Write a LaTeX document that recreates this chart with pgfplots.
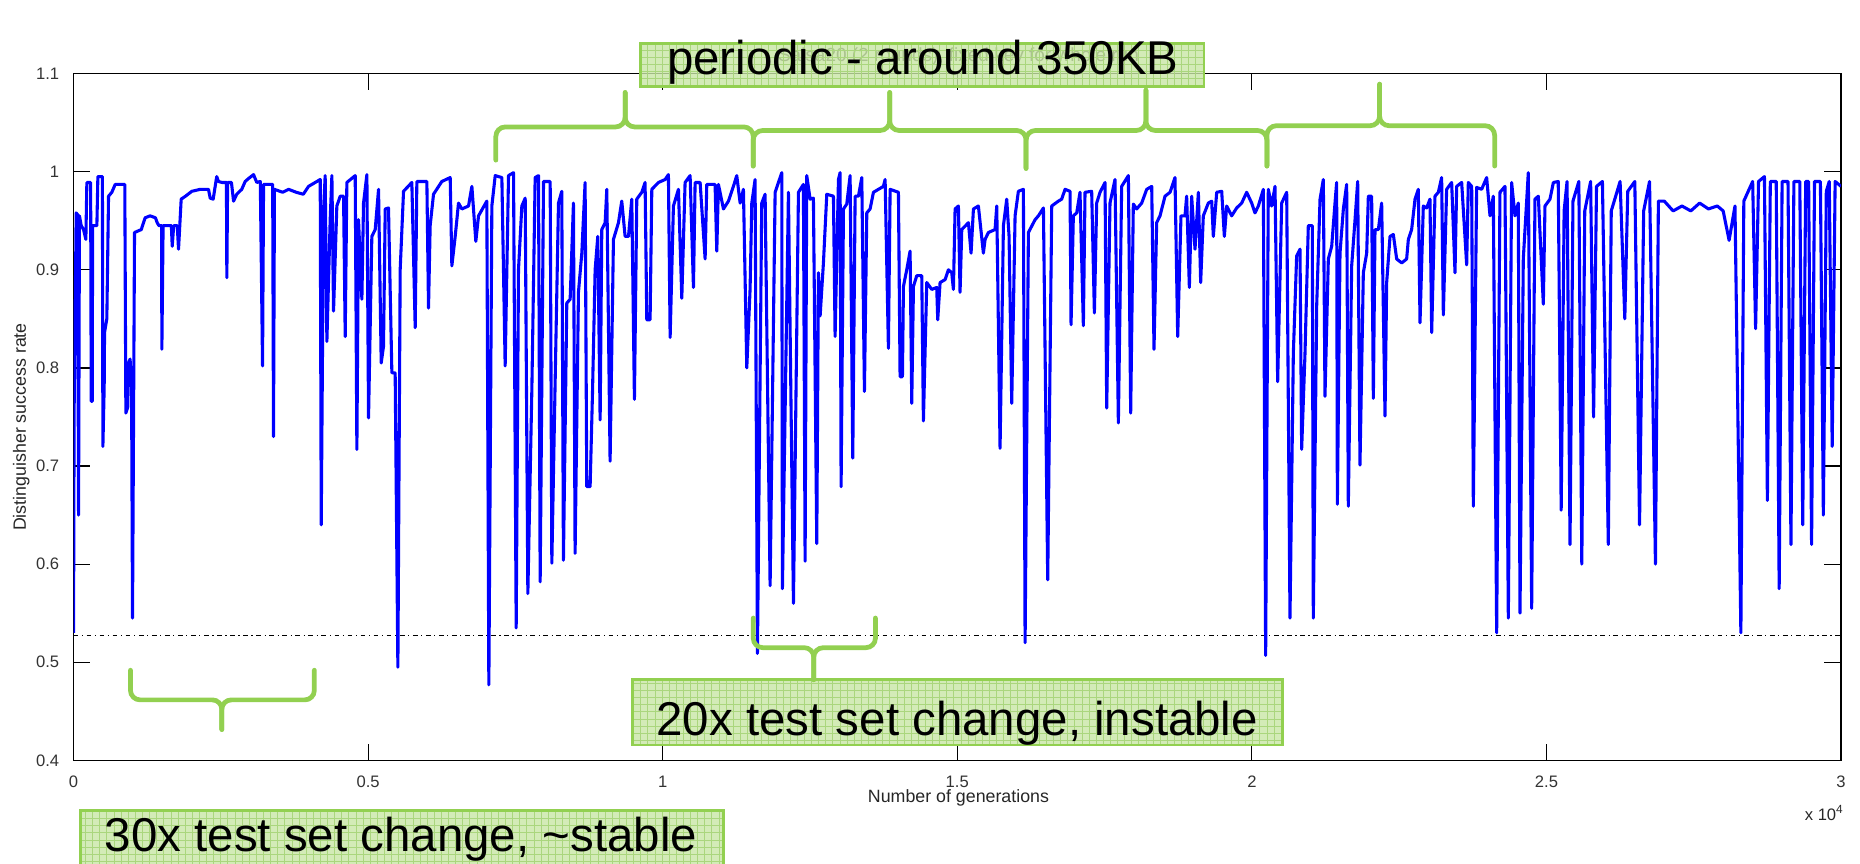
\documentclass[border=0pt]{standalone}
\usepackage{pgfplots}
\pgfplotsset{compat=1.18}
\usepackage{pgfplotstable}
\usepackage{fontspec}
\setmainfont{Liberation Sans}
\definecolor{bracegreen}{RGB}{146,208,80}
\definecolor{boxfill}{RGB}{200,230,165}
\definecolor{gridgreen}{RGB}{170,214,125}
\definecolor{plotblue}{RGB}{0,0,255}

\pgfplotstableread{
x y
0 0.53
10 0.757
45 0.958
70 0.956
85 0.65
100 0.955
130 0.945
170 0.941
209 0.931
226 0.989
290 0.989
300 0.766
318 0.766
323 0.945
396 0.945
413 0.995
490 0.995
498 0.72
520 0.78
526 0.836
565 0.85
594 0.975
650 0.979
707 0.987
870 0.987
888 0.754
920 0.76
934 0.805
960 0.809
985 0.78
1001 0.545
1035 0.938
1150 0.941
1171 0.945
1216 0.953
1300 0.955
1390 0.953
1420 0.948
1450 0.945
1495 0.945
1499 0.819
1520 0.945
1660 0.945
1675 0.924
1700 0.945
1760 0.945
1782 0.921
1827 0.972
1900 0.975
2008 0.98
2150 0.982
2290 0.982
2320 0.973
2370 0.972
2430 0.995
2460 0.99
2520 0.989
2595 0.989
2602 0.892
2615 0.989
2680 0.989
2716 0.97
2770 0.977
2855 0.982
2913 0.99
2970 0.993
3055 0.997
3110 0.989
3170 0.99
3208 0.802
3225 0.987
3380 0.987
3394 0.73
3410 0.982
3550 0.979
3650 0.982
3780 0.979
3900 0.977
3988 0.985
4130 0.99
4187 0.992
4204 0.64
4243 0.96
4271 0.996
4300 0.827
4356 0.951
4385 0.996
4413 0.858
4469 0.965
4526 0.975
4583 0.975
4611 0.832
4639 0.989
4781 0.996
4809 0.717
4837 0.951
4894 0.87
4922 0.968
4979 0.997
5007 0.749
5063 0.934
5120 0.941
5177 0.982
5222 0.805
5261 0.822
5290 0.962
5346 0.963
5403 0.795
5459 0.795
5505 0.495
5544 0.9
5601 0.98
5742 0.989
5799 0.841
5827 0.99
5997 0.99
6025 0.861
6053 0.945
6110 0.977
6251 0.99
6393 0.994
6421 0.904
6478 0.934
6534 0.968
6591 0.962
6704 0.965
6761 0.985
6828 0.929
6874 0.955
7015 0.97
7049 0.477
7100 0.965
7157 0.996
7270 0.994
7326 0.802
7383 0.996
7468 0.999
7513 0.535
7552 0.9
7609 0.965
7666 0.973
7711 0.57
7779 0.778
7835 0.994
7892 0.996
7920 0.582
7977 0.99
8090 0.99
8118 0.601
8175 0.788
8231 0.968
8287 0.98
8315 0.604
8372 0.866
8429 0.87
8485 0.968
8513 0.611
8570 0.877
8627 0.917
8683 0.989
8711 0.679
8768 0.679
8808 0.774
8853 0.9
8898 0.934
8938 0.747
8966 0.941
9023 0.948
9051 0.982
9107 0.705
9164 0.931
9249 0.948
9305 0.97
9362 0.934
9419 0.934
9475 0.972
9520 0.768
9560 0.972
9645 0.979
9701 0.989
9730 0.849
9786 0.849
9815 0.982
9928 0.989
10041 0.992
10097 0.997
10126 0.831
10182 0.965
10267 0.982
10324 0.871
10380 0.989
10465 0.996
10522 0.882
10550 0.989
10635 0.989
10720 0.911
10748 0.987
10889 0.987
10918 0.919
10946 0.987
11031 0.962
11116 0.97
11200 0.985
11257 0.996
11314 0.968
11370 0.982
11427 0.8
11483 0.88
11512 0.968
11568 0.992
11608 0.509
11681 0.968
11738 0.977
11823 0.578
11908 0.979
12021 0.999
12032 0.575
12134 0.979
12219 0.56
12304 0.979
12388 0.987
12417 0.603
12445 0.996
12502 0.972
12558 0.973
12615 0.621
12643 0.897
12672 0.853
12728 0.907
12785 0.977
12898 0.975
12926 0.832
12983 0.992
13011 0.999
13028 0.679
13068 0.962
13124 0.967
13181 0.996
13226 0.708
13266 0.975
13322 0.975
13379 0.994
13424 0.776
13464 0.958
13520 0.962
13577 0.979
13746 0.985
13775 0.992
13831 0.82
13860 0.982
14001 0.979
14029 0.791
14069 0.791
14086 0.883
14142 0.9
14199 0.919
14227 0.764
14256 0.883
14312 0.894
14397 0.894
14425 0.746
14482 0.887
14567 0.88
14651 0.882
14668 0.849
14708 0.887
14793 0.89
14849 0.9
14906 0.897
14934 0.88
14963 0.962
15019 0.965
15047 0.877
15076 0.941
15189 0.948
15234 0.917
15274 0.962
15358 0.965
15443 0.917
15472 0.931
15528 0.938
15641 0.941
15670 0.965
15726 0.718
15783 0.945
15839 0.972
15879 0.934
15924 0.764
15981 0.955
16037 0.98
16122 0.982
16151 0.52
16207 0.938
16320 0.951
16377 0.955
16462 0.963
16535 0.584
16603 0.965
16716 0.97
16772 0.972
16829 0.982
16914 0.98
16931 0.844
16970 0.955
17027 0.958
17083 0.979
17140 0.843
17168 0.979
17281 0.98
17327 0.856
17366 0.968
17423 0.979
17508 0.989
17536 0.759
17592 0.968
17677 0.992
17734 0.744
17790 0.985
17904 0.996
17943 0.754
17988 0.967
18045 0.962
18130 0.968
18215 0.982
18300 0.985
18339 0.819
18384 0.948
18441 0.955
18526 0.975
18611 0.979
18695 0.994
18741 0.832
18797 0.955
18865 0.955
18893 0.975
18939 0.882
18978 0.975
19035 0.921
19092 0.979
19131 0.887
19176 0.955
19261 0.968
19318 0.97
19346 0.934
19403 0.979
19488 0.98
19533 0.934
19572 0.965
19657 0.955
19742 0.963
19827 0.968
19912 0.979
19997 0.968
20053 0.958
20110 0.965
20195 0.982
20234 0.507
20279 0.982
20336 0.965
20393 0.985
20438 0.786
20506 0.968
20591 0.979
20647 0.545
20704 0.815
20760 0.914
20817 0.921
20845 0.717
20902 0.815
20958 0.945
21026 0.945
21043 0.545
21100 0.863
21157 0.972
21213 0.992
21241 0.771
21298 0.911
21355 0.924
21411 0.968
21439 0.989
21451 0.661
21496 0.917
21553 0.962
21609 0.987
21637 0.659
21694 0.904
21751 0.951
21796 0.99
21835 0.701
21892 0.897
21949 0.917
21977 0.975
22033 0.975
22062 0.769
22090 0.941
22147 0.941
22203 0.968
22260 0.751
22288 0.887
22345 0.934
22401 0.936
22458 0.911
22543 0.907
22627 0.911
22656 0.931
22712 0.941
22769 0.972
22825 0.982
22854 0.846
22910 0.965
22967 0.963
23023 0.972
23052 0.836
23108 0.975
23165 0.979
23221 0.994
23250 0.854
23306 0.982
23391 0.989
23448 0.897
23476 0.985
23561 0.989
23646 0.905
23674 0.989
23731 0.985
23759 0.659
23815 0.984
23900 0.982
23985 0.994
24042 0.955
24098 0.975
24155 0.53
24211 0.979
24296 0.985
24353 0.545
24409 0.989
24466 0.955
24522 0.968
24551 0.55
24607 0.911
24692 0.999
24749 0.555
24805 0.972
24862 0.975
24947 0.865
24975 0.965
25060 0.972
25117 0.989
25200 0.99
25250 0.655
25300 0.96
25350 0.99
25400 0.62
25450 0.97
25550 0.99
25600 0.60
25650 0.96
25750 0.99
25800 0.75
25850 0.985
25950 0.99
26050 0.62
26100 0.96
26250 0.99
26330 0.85
26380 0.98
26500 0.99
26580 0.64
26650 0.96
26750 0.99
26850 0.60
26900 0.97
27000 0.97
27150 0.96
27300 0.965
27450 0.96
27600 0.968
27750 0.962
27900 0.965
28000 0.96
28100 0.93
28200 0.965
28300 0.53
28350 0.97
28500 0.99
28550 0.84
28600 0.99
28700 0.995
28750 0.665
28800 0.99
28900 0.99
28950 0.575
29000 0.99
29100 0.99
29150 0.62
29200 0.99
29300 0.99
29350 0.64
29400 0.99
29450 0.99
29500 0.62
29550 0.99
29650 0.99
29700 0.65
29750 0.98
29800 0.99
29850 0.72
29900 0.99
30000 0.985
}\datatable

\newcommand{\gbox}[4]{%
  \fill[boxfill, fill opacity=0.8] (#1,#2) rectangle (#3,#4);
  \draw[gridgreen, line width=0.25pt, step=3pt] (#1,#2) grid (#3,#4);
  \draw[bracegreen, line width=1.2pt] (#1,#2) rectangle (#3,#4);
}

\begin{document}
\begin{tikzpicture}
\begin{axis}[
  at={(0,0)}, anchor=south west,
  scale only axis, width=745pt, height=289.5pt,
  xmin=0, xmax=30000, ymin=0.4, ymax=1.1,
  xtick={0,5000,10000,15000,20000,25000,30000},
  xticklabels={0,0.5,1,1.5,2,2.5,3},
  ytick={0.4,0.5,0.6,0.7,0.8,0.9,1,1.1},
  yticklabels={0.4,0.5,0.6,0.7,0.8,0.9,1,1.1},
  scaled x ticks=false,
  tick align=inside, xtick pos=both, ytick pos=both,
  major tick length=7pt,
  tick style={black, line width=0.5pt},
  axis line style={black, line width=0.6pt},
  ticklabel style={font=\fontsize{7}{8}\selectfont, text=black!80},
  xticklabel style={yshift=-3pt},
  yticklabel style={xshift=-2.5pt},
  /pgf/number format/assume math mode=true,
]
\addplot[black, line width=0.5pt, dash pattern=on 2pt off 1.5pt on 0.5pt off 1.5pt] coordinates {(0,0.527) (30000,0.527)};
\addplot[plotblue, line width=1.3pt, line join=round, no markers] table[x=x,y=y] {\datatable};
\end{axis}
\begin{scope}[x=0.5pt,y=-0.5pt,shift={(-31pt,320.5pt)}]
 \node[font=\fontsize{7.5}{9}\selectfont, rotate=90, text=black!85] at (18,360) {Distinguisher success rate};
 \node[font=\fontsize{7.5}{9}\selectfont, text=black!85] at (808,673) {Number of generations};
 \node[font=\fontsize{7}{8}\selectfont, anchor=base, text=black!85] at (1538,692) {x 10\textsuperscript{4}};
 \node[font=\fontsize{8}{9}\selectfont, anchor=base, text=black!80] at (808,52) {Salsa20 (2 rounds), fixed key for whole run};
 % boxes
 \gbox{540}{37}{1015}{73}
 \node[font=\fontsize{20}{22}\selectfont, anchor=base] at (778,63) {periodic - around 350KB};
 \gbox{533}{573}{1081}{628}
 \node[font=\fontsize{20}{22}\selectfont, anchor=base] at (807,620) {20x test set change, instable};
 \gbox{68}{683}{610}{745}
 \node[font=\fontsize{20}{22}\selectfont, anchor=base] at (338,718) {30x test set change, \textasciitilde stable};
 % braces
 \tikzset{br/.style={bracegreen, line width=2pt, rounded corners=4pt, line cap=round}}
 \draw[br] (418,135) -- (418,107) -- (527,107) -- (527,78);
 \draw[br] (527,78) -- (527,107) -- (635,107) -- (635,140);
 \draw[br] (635,140) -- (635,110) -- (750,110) -- (750,78);
 \draw[br] (750,78) -- (750,110) -- (865,110) -- (865,142);
 \draw[br] (865,142) -- (865,110) -- (966,110) -- (966,76);
 \draw[br] (966,76) -- (966,110) -- (1068,110) -- (1068,140);
 \draw[br] (1068,140) -- (1068,106) -- (1163,106) -- (1163,71);
 \draw[br] (1163,71) -- (1163,106) -- (1260,106) -- (1260,140);
 \draw[br] (110,565) -- (110,590) -- (187,590) -- (187,615);
 \draw[br] (187,615) -- (187,590) -- (265,590) -- (265,565);
 \draw[br] (635,521) -- (635,546) -- (686,546) -- (686,573);
 \draw[br] (686,573) -- (686,546) -- (738,546) -- (738,521);
 \pgfresetboundingbox
 \useasboundingbox (0,0) rectangle (1568,728);
\end{scope}
\end{tikzpicture}
\end{document}
